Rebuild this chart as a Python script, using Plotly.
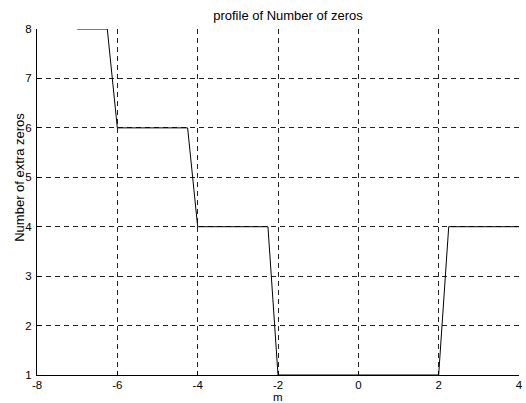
import plotly.graph_objects as go

# profile points (m, number of extra zeros)
m_vals = [-7.0, -6.25, -6.0, -4.25, -4.0, -2.25, -2.0, 2.0, 2.25, 4.0]
zeros_vals = [8, 8, 6, 6, 4, 4, 1, 1, 4, 4]

x_ticks = [-8, -6, -4, -2, 0, 2, 4]
y_ticks = [1, 2, 3, 4, 5, 6, 7, 8]

FONT = "Liberation Sans, Arial"

fig = go.Figure()

fig.add_trace(
    go.Scatter(
        x=m_vals,
        y=zeros_vals,
        mode="lines",
        line=dict(color="black", width=1),
        showlegend=False,
        cliponaxis=False,
    )
)

axis_common = dict(
    showline=True,
    linecolor="black",
    linewidth=1,
    mirror=False,
    ticks="inside",
    ticklen=4,
    tickcolor="black",
    showgrid=True,
    gridcolor="#222222",
    gridwidth=1,
    griddash="5px,4px",
    zeroline=False,
    automargin=False,
    ticklabeloverflow="allow",
    tickfont=dict(family=FONT, size=11.5, color="black"),
)

fig.update_xaxes(
    range=[-8, 4],
    tickvals=x_ticks,
    ticktext=[str(v) for v in x_ticks],
    ticklabelstandoff=-1,
    **axis_common,
)
fig.update_yaxes(
    range=[1, 8],
    tickvals=y_ticks,
    ticktext=[str(v) for v in y_ticks],
    ticklabelstandoff=2,
    **axis_common,
)

# axis titles placed like the original
fig.add_annotation(
    text="m", xref="paper", yref="paper", x=0.5, y=-(397 - 375) / 346,
    xanchor="center", yanchor="middle", showarrow=False,
    font=dict(family=FONT, size=11.5, color="black"),
)
fig.add_annotation(
    text="Number of extra zeros", xref="paper", yref="paper", x=-0.038, y=0.572,
    xanchor="center", yanchor="middle", textangle=-90, showarrow=False,
    font=dict(family=FONT, size=13, color="black"),
)

fig.update_layout(
    title=dict(
        text="profile of Number of zeros",
        x=288 / 526,
        xanchor="center",
        y=1 - 15 / 403,
        yanchor="middle",
        font=dict(family=FONT, size=13, color="black"),
    ),
    width=526,
    height=403,
    margin=dict(l=37, r=7, t=29, b=28),
    plot_bgcolor="white",
    paper_bgcolor="white",
)

# drop the default page margin so the figure fills the window
fig.write_html(
    "out.html",
    config={"displayModeBar": False},
    post_script="document.body.style.margin='0';",
)
